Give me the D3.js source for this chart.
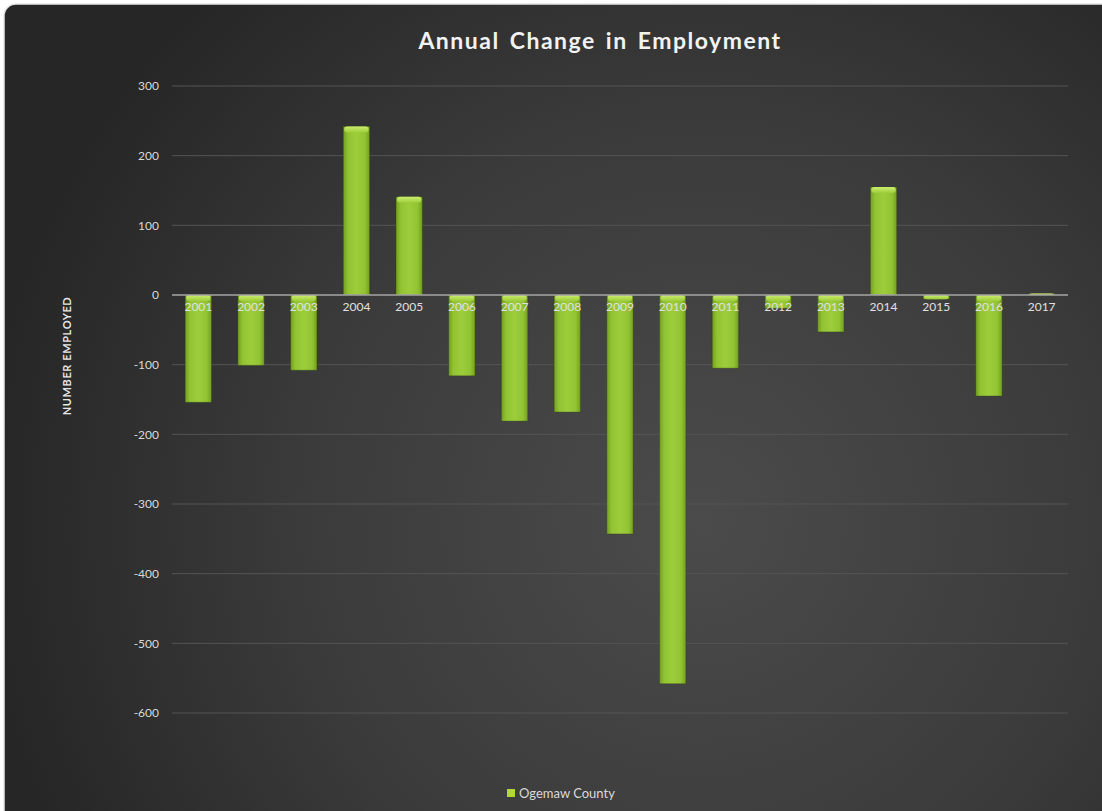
<!DOCTYPE html>
<html>
<head>
<meta charset="utf-8">
<script src="https://cdn.jsdelivr.net/npm/d3@7"></script>
<style>
  html, body { margin: 0; padding: 0; background: #ffffff; }
  svg { display: block; }
</style>
</head>
<body>
<svg id="chart" width="1102" height="811"></svg>
<script>
const years = ["2001","2002","2003","2004","2005","2006","2007","2008","2009","2010","2011","2012","2013","2014","2015","2016","2017"];
const changes = [-154, -101, -108, 242, 141, -116, -181, -168, -343, -558, -105, -19, -53, 155, -6, -145, 2];
const yTicks = [300, 200, 100, 0, -100, -200, -300, -400, -500, -600];
const seriesName = "Ogemaw County";
const titleText = "Annual Change in Employment";
const yTitle = "NUMBER EMPLOYED";

const svg = d3.select("#chart");
const W = 1102, H = 811;
const font = "Lato, 'Open Sans', sans-serif";

const defs = svg.append("defs");
const bg = defs.append("radialGradient").attr("id", "bg")
  .attr("gradientUnits", "userSpaceOnUse")
  .attr("cx", 700).attr("cy", 520).attr("r", 720);
bg.append("stop").attr("offset", "0%").attr("stop-color", "#4b4b4b");
bg.append("stop").attr("offset", "55%").attr("stop-color", "#3b3b3b");
bg.append("stop").attr("offset", "100%").attr("stop-color", "#262626");

const barGrad = defs.append("linearGradient").attr("id", "barGrad")
  .attr("x1", "0%").attr("x2", "100%").attr("y1", "0%").attr("y2", "0%");
barGrad.append("stop").attr("offset", "0%").attr("stop-color", "#739f1f");
barGrad.append("stop").attr("offset", "18%").attr("stop-color", "#92c333");
barGrad.append("stop").attr("offset", "50%").attr("stop-color", "#9dcd3a");
barGrad.append("stop").attr("offset", "82%").attr("stop-color", "#92c333");
barGrad.append("stop").attr("offset", "100%").attr("stop-color", "#739f1f");

const capGrad = defs.append("linearGradient").attr("id", "capGrad")
  .attr("x1", "0%").attr("x2", "0%").attr("y1", "0%").attr("y2", "100%");
capGrad.append("stop").attr("offset", "0%").attr("stop-color", "#cdee70");
capGrad.append("stop").attr("offset", "100%").attr("stop-color", "#9dcd3a");

// background panel
svg.append("rect").attr("x", 4).attr("y", 4).attr("width", W + 20).attr("height", H + 20)
  .attr("rx", 12).attr("ry", 12)
  .attr("fill", "url(#bg)").attr("stroke", "#e6e6e6").attr("stroke-width", 1.5);

const plot = { left: 172, right: 1068, top: 86, bottom: 713 };

const x = d3.scaleBand().domain(years).range([plot.left, plot.right]).paddingInner(0.5).paddingOuter(0.25);
const y = d3.scaleLinear().domain([-600, 300]).range([plot.bottom, plot.top]);

// gridlines
svg.append("g").selectAll("line").data(yTicks.filter(d => d !== 0)).join("line")
  .attr("x1", plot.left).attr("x2", plot.right)
  .attr("y1", d => y(d)).attr("y2", d => y(d))
  .attr("stroke", "#555555").attr("stroke-width", 1);

// y axis labels
const yAxis = d3.axisLeft(y).tickValues(yTicks).tickSize(0).tickPadding(0).tickFormat(d => String(d));
const ya = svg.append("g").attr("transform", `translate(${plot.left - 13},0)`).call(yAxis);
ya.select(".domain").remove();
ya.selectAll("text").attr("fill", "#d9d9d9").attr("font-size", 12).attr("font-family", font);

// bars
const bars = svg.append("g");
bars.selectAll("rect.bar").data(years).join("rect").attr("class", "bar")
  .attr("x", d => x(d))
  .attr("width", x.bandwidth())
  .attr("y", (d, i) => y(Math.max(0, changes[i])))
  .attr("height", (d, i) => Math.abs(y(changes[i]) - y(0)))
  .attr("fill", "url(#barGrad)")
  .attr("stroke", "#2f3a1e").attr("stroke-opacity", 0.35).attr("stroke-width", 1);
// bevel highlight at top of each bar
bars.selectAll("rect.cap").data(years).join("rect").attr("class", "cap")
  .attr("x", d => x(d) + 1)
  .attr("width", x.bandwidth() - 2)
  .attr("y", (d, i) => y(Math.max(0, changes[i])))
  .attr("height", (d, i) => Math.min(6, Math.abs(y(changes[i]) - y(0))))
  .attr("rx", 3)
  .attr("fill", "url(#capGrad)");

// zero line
svg.append("line").attr("x1", plot.left).attr("x2", plot.right)
  .attr("y1", y(0)).attr("y2", y(0))
  .attr("stroke", "#a6a6a6").attr("stroke-width", 1.5);

// x axis labels
const xAxis = d3.axisBottom(x).tickSize(0).tickPadding(0);
const xa = svg.append("g").attr("transform", `translate(0,${y(0) + 12})`).call(xAxis);
xa.select(".domain").remove();
xa.selectAll("text").attr("fill", "#e0e0e0").attr("font-size", 12).attr("font-family", font)
  .attr("dy", "0.35em").attr("y", 0);

// title
svg.append("text").attr("x", 600).attr("y", 49).attr("text-anchor", "middle")
  .attr("fill", "#f2f2f2").attr("font-size", 23).attr("font-weight", "bold")
  .attr("letter-spacing", 1.5).attr("word-spacing", 3).attr("font-family", font)
  .text(titleText);

// y title
svg.append("text").attr("transform", "translate(71,356) rotate(-90)")
  .attr("text-anchor", "middle").attr("fill", "#e6e6e6").attr("font-size", 11)
  .attr("font-weight", "bold").attr("letter-spacing", 0.6).attr("font-family", font)
  .text(yTitle);

// legend
svg.append("rect").attr("x", 507).attr("y", 789).attr("width", 8).attr("height", 8)
  .attr("fill", "#b3d832");
svg.append("text").attr("x", 519).attr("y", 793).attr("dy", "0.35em")
  .attr("fill", "#d9d9d9").attr("font-size", 13).attr("font-family", font)
  .text(seriesName);
</script>
</body>
</html>
